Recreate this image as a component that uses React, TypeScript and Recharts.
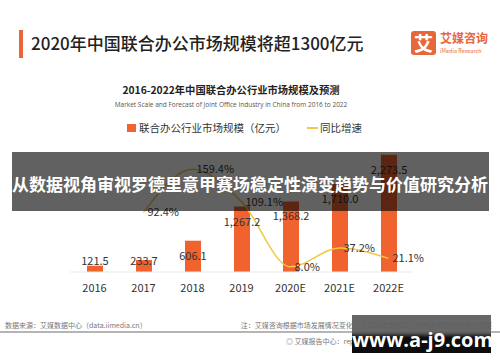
import React from "react";
import { ComposedChart, Bar, Line, XAxis, YAxis, LabelList } from "recharts";

const years = ["2016", "2017", "2018", "2019", "2020E", "2021E", "2022E"];
const marketScale = [121.5, 233.7, 606.1, 1267.2, 1368.2, 1710.0, 2273.5];
const growthRate: (number | null)[] = [null, 92.4, 159.4, 109.1, 8.0, 37.2, 21.1];

const data = years.map((y, i) => ({ year: y, scale: marketScale[i], growth: growthRate[i] }));

const FONT = '"Noto Sans CJK SC", "Noto Sans", sans-serif';
const BAR_COLOR = "#F0622E";
const LINE_COLOR = "#F3C747";

const BarValueLabel = (props: any) => {
  const { x, y, width, height, value } = props;
  const base = y + height;
  const ly = Math.min(y + 14, base - 12);
  return (
    <text x={x + width / 2} y={ly} textAnchor="middle" dominantBaseline="central" fontSize={11} fill="#333" fontFamily={FONT}>
      {Number(value).toLocaleString("en-US", { minimumFractionDigits: 1, maximumFractionDigits: 1 })}
    </text>
  );
};

export default function App() {
  return (
    <div style={{ position: "fixed", left: 0, top: 0, width: 500, height: 362, background: "#fff", overflow: "hidden", fontFamily: FONT }}>
      {/* header */}
      <div style={{ position: "absolute", left: 19, top: 30, width: 4, height: 28, background: "#E8673A" }} />
      <div style={{ position: "absolute", left: 31, top: 31, fontSize: 17, fontWeight: 500, color: "#222", whiteSpace: "nowrap", lineHeight: "24px" }}>
        2020年中国联合办公市场规模将超1300亿元
      </div>
      <div style={{ position: "absolute", left: 411, top: 31, width: 25, height: 24, background: "#E8673A", borderRadius: 3, color: "#fff", fontSize: 19, fontWeight: 700, lineHeight: "24px", textAlign: "center" }}>艾</div>
      <div style={{ position: "absolute", left: 440, top: 30, fontSize: 12, fontWeight: 700, color: "#E8673A", whiteSpace: "nowrap", lineHeight: "16px" }}>艾媒咨询</div>
      <div style={{ position: "absolute", left: 440, top: 48, fontSize: 5.5, color: "#E8673A", whiteSpace: "nowrap", lineHeight: "7px" }}>iMedia Research</div>

      <div style={{ position: "absolute", left: 0, width: 462, top: 82, textAlign: "center", fontSize: 10.3, fontWeight: 700, color: "#222", whiteSpace: "nowrap", lineHeight: "16px" }}>
        2016-2022年中国联合办公行业市场规模及预测
      </div>
      <div style={{ position: "absolute", left: 0, width: 462, top: 100, textAlign: "center", fontSize: 6.5, color: "#555", whiteSpace: "nowrap", lineHeight: "10px", fontFamily: '"Open Sans", sans-serif' }}>
        Market Scale and Forecast of Joint Office Industry in China from 2016 to 2022
      </div>

      {/* legend */}
      <div style={{ position: "absolute", left: 127, top: 120, display: "flex", alignItems: "center", fontSize: 10.5, color: "#333", height: 15, whiteSpace: "nowrap" }}>
        <span style={{ display: "inline-block", width: 9, height: 8, background: BAR_COLOR, marginRight: 3 }} />
        <span>联合办公行业市场规模（亿元）</span>
        <span style={{ display: "inline-block", width: 11, height: 2, background: LINE_COLOR, marginLeft: 21, marginRight: 2 }} />
        <span>同比增速</span>
      </div>

      <div style={{ position: "absolute", left: 0, top: 0 }}>
        <ComposedChart width={500} height={362} data={data} margin={{ top: 143, right: 87, bottom: 60, left: 70 }}>
          <XAxis dataKey="year" axisLine={{ stroke: "#E8E8E8" }} tickLine={false} height={30} tickMargin={6}
            tick={{ fontSize: 11, fill: "#333", fontFamily: FONT }} interval={0} />
          <YAxis yAxisId="left" hide domain={[0, 2500]} />
          <YAxis yAxisId="right" hide orientation="right" domain={[0, 200]} />
          <Bar yAxisId="left" dataKey="scale" fill={BAR_COLOR} barSize={16} isAnimationActive={false}>
            <LabelList dataKey="scale" content={<BarValueLabel />} />
          </Bar>
          <Line yAxisId="right" dataKey="growth" type="monotone" stroke={LINE_COLOR} strokeWidth={1.5} dot={false} isAnimationActive={false}>
            <LabelList dataKey="growth" position="right" offset={4} fontSize={11} fill="#333" fontFamily={FONT}
              formatter={(v: any) => (v == null ? "" : Number(v).toFixed(1) + "%")} />
          </Line>
        </ComposedChart>
      </div>

      {/* overlay banner */}
      <div style={{ position: "absolute", left: 12, top: 152, width: 477, height: 59, background: "rgba(0,0,0,0.62)", zIndex: 5 }} />
      <div style={{ position: "absolute", left: 0, width: 500, top: 172, textAlign: "center", fontSize: 17, fontWeight: 700, color: "#fff", whiteSpace: "nowrap", lineHeight: "24px", zIndex: 6 }}>
        从数据视角审视罗德里意甲赛场稳定性演变趋势与价值研究分析
      </div>

      {/* footer */}
      <div style={{ position: "absolute", left: 5, top: 320, fontSize: 7, color: "#777", whiteSpace: "nowrap", lineHeight: "10px" }}>
        数据来源：艾媒数据中心（data.iimedia.cn）
      </div>
      <div style={{ position: "absolute", right: 8, top: 320, fontSize: 7, color: "#777", whiteSpace: "nowrap", lineHeight: "10px" }}>
        注：艾媒咨询根据市场发展情况变化，于2020年9月25日对市场规模预测进行调整
      </div>
      <div style={{ position: "absolute", left: 0, top: 331, width: 500, height: 1.5, background: "#B5B5B5" }} />
      <div style={{ position: "absolute", right: 9, top: 336, fontSize: 7, color: "#777", whiteSpace: "nowrap", lineHeight: "10px" }}>
        ◎ 艾媒报告中心：report.iimedia.cn ©2020 iiMedia Research Inc
      </div>

      {/* watermark */}
      <div style={{ position: "absolute", left: 352, top: 315, width: 139, height: 38, background: "linear-gradient(#5f5f5f 0%, #5f5f5f 45%, #000 60%, #000 100%)", opacity: 0.95, zIndex: 7 }} />
      <div style={{ position: "absolute", left: 352, top: 327, width: 139, textAlign: "center", fontSize: 20, fontWeight: 700, color: "#fff", whiteSpace: "nowrap", lineHeight: "26px", zIndex: 8, fontFamily: '"Open Sans", "Noto Sans", sans-serif' }}>
        www.a-j9.com
      </div>
    </div>
  );
}
